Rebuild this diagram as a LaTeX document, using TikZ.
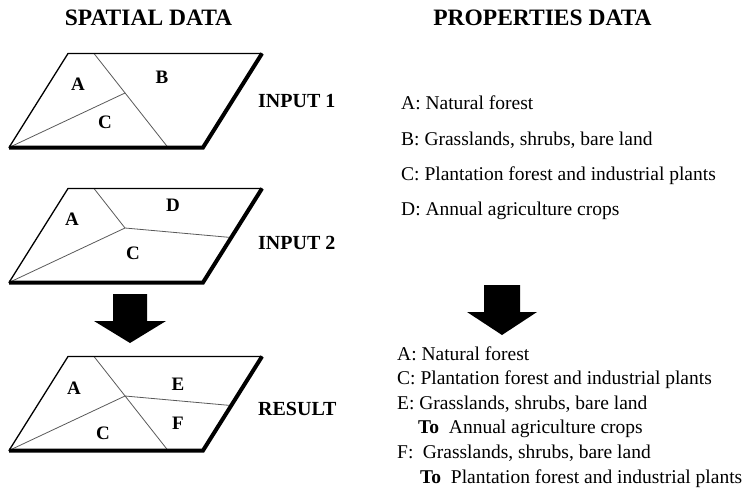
\documentclass[tikz,border=0pt]{standalone}
\usepackage{fontspec}
\setmainfont{Liberation Serif}
\begin{document}
\begin{tikzpicture}[x=1pt, y=-1pt, line join=round, line cap=round,
  thinedge/.style={line width=1.3pt},
  thickedge/.style={line width=4pt, line join=miter, line cap=butt},
  split/.style={line width=0.8pt, black!65},
  region/.style={font=\fontsize{19}{19}\selectfont\bfseries},
  layer/.style={anchor=west, inner sep=0pt, font=\fontsize{20}{20}\selectfont\bfseries},
  header/.style={font=\fontsize{23.5}{23.5}\selectfont\bfseries},
  prop/.style={anchor=base west, inner sep=0pt, font=\fontsize{19.5}{19.5}\selectfont}]
\useasboundingbox (0,0) rectangle (747,488);
\node[header] (hs) at (148.5,18) {SPATIAL DATA};
\node[header] (hp) at (542.5,18) {PROPERTIES DATA};
% input 1
\begin{scope}[shift={(0,53.5)}]
\coordinate (tl1) at (68,0);
\coordinate (tr1) at (262,0);
\coordinate (br1) at (203,94);
\coordinate (bl1) at (9,94);
\coordinate (st1) at (94,0);
\coordinate (sb1) at (168,94);
\coordinate (m1) at (125,39.5);
\draw[split] (st1) -- (sb1);
\draw[split] (bl1) -- (m1);
\draw[thinedge] (bl1) -- (tl1) -- (tr1);
\draw[thickedge] (tr1) -- (br1) -- (bl1);
\node[region] (a1) at (78,31) {A};
\node[region] (b1) at (162,24) {B};
\node[region] (c1) at (105,69) {C};
\end{scope}
\node[layer] (in1) at (258,101) {INPUT 1};
% input 2
\begin{scope}[shift={(0,188.5)}]
\coordinate (tl2) at (68,0);
\coordinate (tr2) at (262,0);
\coordinate (br2) at (203,94);
\coordinate (bl2) at (9,94);
\coordinate (st2) at (94,0);
\coordinate (m2) at (125,39.5);
\coordinate (r2) at (231,49);
\draw[split] (st2) -- (m2);
\draw[split] (bl2) -- (m2) -- (r2);
\draw[thinedge] (bl2) -- (tl2) -- (tr2);
\draw[thickedge] (tr2) -- (br2) -- (bl2);
\node[region] (a2) at (72,31) {A};
\node[region] (d2) at (173,17) {D};
\node[region] (c2) at (133,65) {C};
\end{scope}
\node[layer] (in2) at (258,243) {INPUT 2};
% overlay arrow
\fill (113,294) -- (147,294) -- (147,321) -- (166,321) -- (130,343) -- (94,321) -- (113,321) -- cycle;
% result
\begin{scope}[shift={(0,356.5)}]
\coordinate (tl3) at (68,0);
\coordinate (tr3) at (262,0);
\coordinate (br3) at (203,94);
\coordinate (bl3) at (9,94);
\coordinate (st3) at (94,0);
\coordinate (sb3) at (168,94);
\coordinate (m3) at (125,39.5);
\coordinate (r3) at (231,49);
\draw[split] (st3) -- (sb3);
\draw[split] (bl3) -- (m3) -- (r3);
\draw[thinedge] (bl3) -- (tl3) -- (tr3);
\draw[thickedge] (tr3) -- (br3) -- (bl3);
\node[region] (a3) at (74,32) {A};
\node[region] (e3) at (178,28) {E};
\node[region] (f3) at (178,67) {F};
\node[region] (c3) at (103,77) {C};
\end{scope}
\node[layer] (res) at (258,409) {RESULT};
% properties
\node[prop] (pa) at (401,109) {A: Natural forest};
\node[prop] (pb) at (401,145) {B: Grasslands, shrubs, bare land};
\node[prop] (pc) at (401,180) {C: Plantation forest and industrial plants};
\node[prop] (pd) at (401,215) {D: Annual agriculture crops};
\fill (484,285) -- (520,285) -- (520,312) -- (537,312) -- (502,335) -- (467,312) -- (484,312) -- cycle;
\node[prop] (qa) at (397,360) {A: Natural forest};
\node[prop] (qc) at (397,384.6) {C: Plantation forest and industrial plants};
\node[prop] (qe) at (397,409.2) {E: Grasslands, shrubs, bare land};
\node[prop] (qe2) at (418,433.8) {\textbf{To}\ \ Annual agriculture crops};
\node[prop] (qf) at (397,458.4) {F:\hspace{4.5pt} Grasslands, shrubs, bare land};
\node[prop] (qf2) at (420,483) {\textbf{To}\ \ Plantation forest and industrial plants};
\end{tikzpicture}
\end{document}
